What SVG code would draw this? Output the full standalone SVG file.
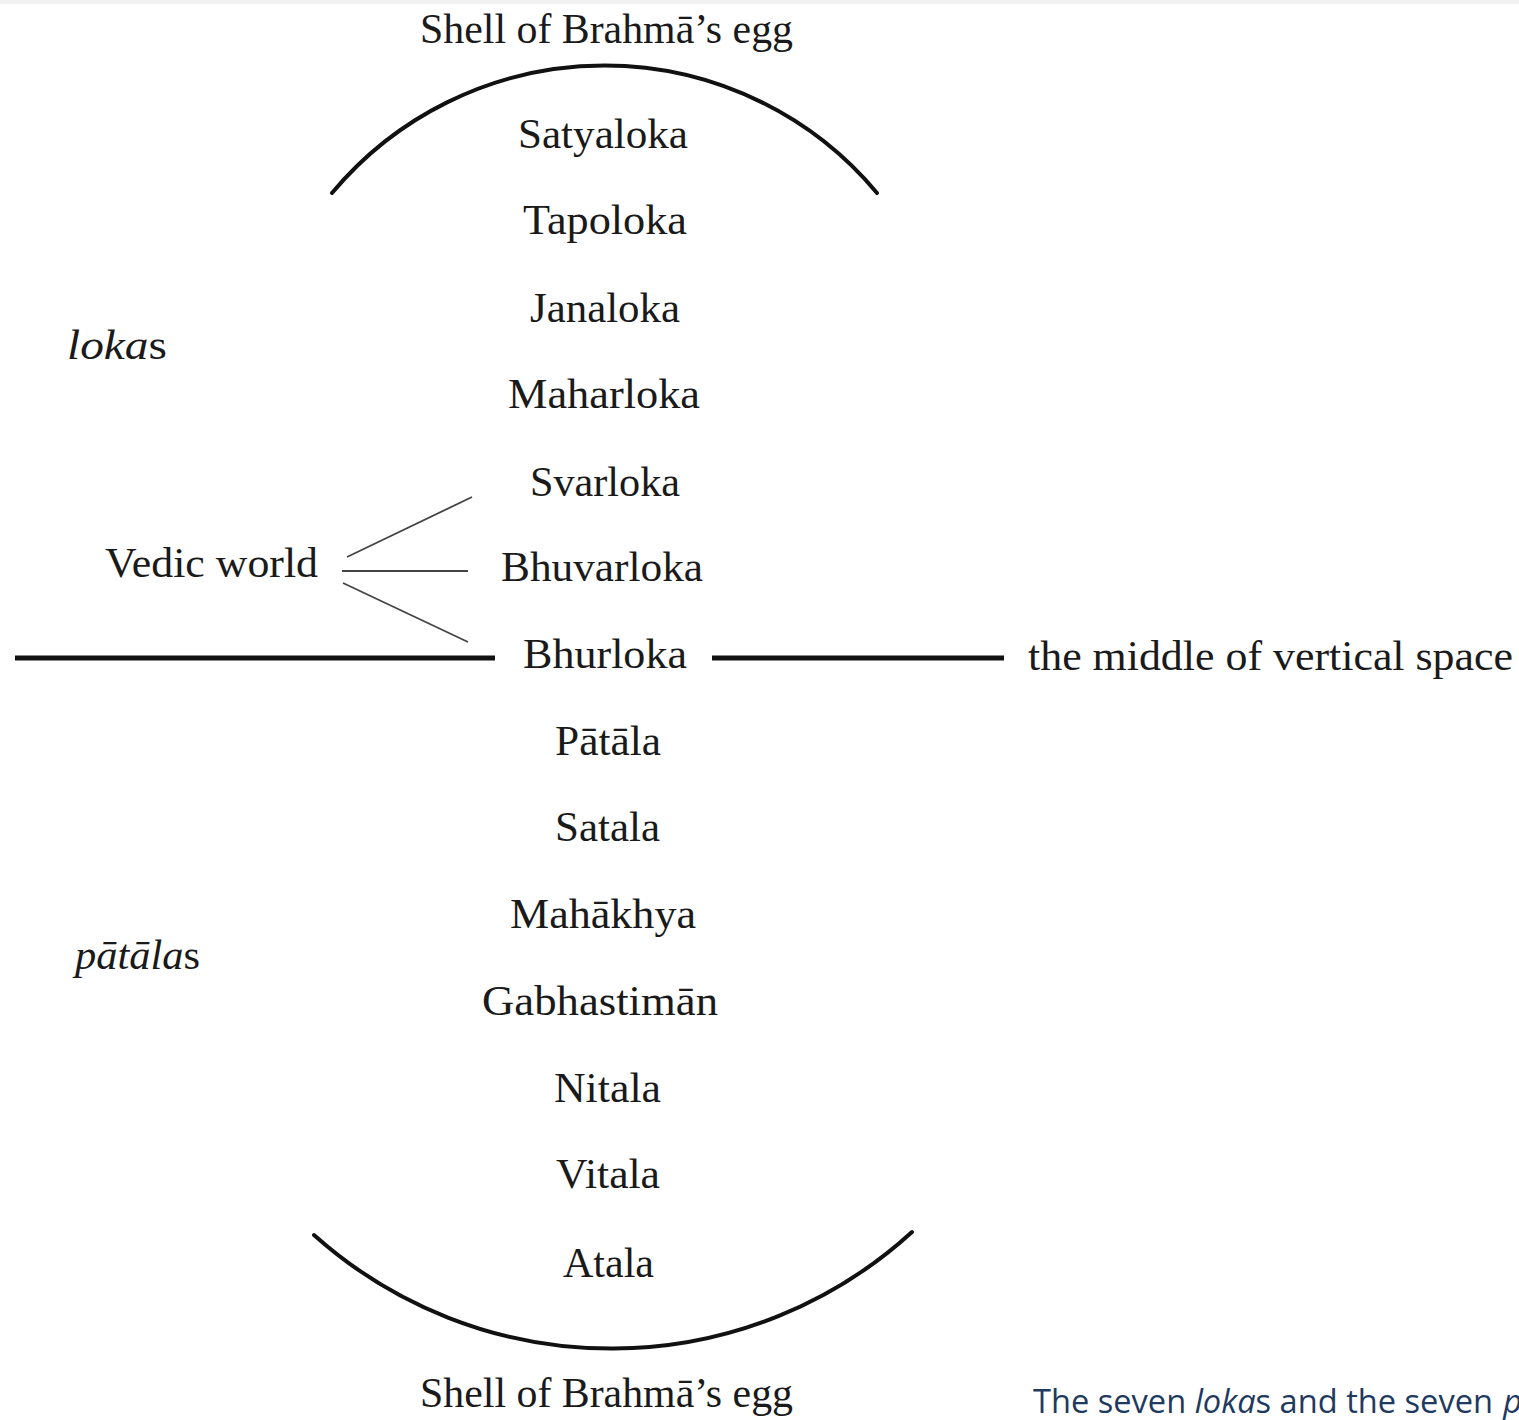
<svg xmlns="http://www.w3.org/2000/svg" width="1519" height="1420" viewBox="0 0 1519 1420">
<style>
.t{font-family:"Liberation Serif","Times New Roman",serif;font-size:42px;fill:#1a1a1a}
.i{font-style:italic}
.cap{font-family:"Open Sans","Noto Sans",sans-serif;font-size:33px;fill:#1f3a5f}
.arc{fill:none;stroke:#111;stroke-width:4;stroke-linecap:round}
.bar{fill:none;stroke:#111;stroke-width:5}
.thin{fill:none;stroke:#444;stroke-width:1.8}
</style>
<rect x="0" y="0" width="1519" height="1420" fill="#ffffff"/>
<rect x="0" y="0" width="1519" height="4" fill="#f1f1f1"/>
<g id="connectors">
<path class="arc" d="M332,193 A355,355 0 0 1 877,193"/>
<path class="arc" d="M314,1235 A446,446 0 0 0 912,1232"/>
<line class="bar" x1="15" y1="658" x2="495" y2="658"/>
<line class="bar" x1="712" y1="658" x2="1004" y2="658"/>
<line class="thin" x1="347" y1="557" x2="472" y2="497"/>
<line class="thin" x1="342" y1="571" x2="468" y2="571"/>
<line class="thin" x1="343" y1="583" x2="468" y2="642"/>
</g>
<g id="shell-top"><text class="t" x="420" y="43" textLength="373" lengthAdjust="spacingAndGlyphs">Shell of Brahmā’s egg</text></g>
<g id="satyaloka"><text class="t" x="518" y="148" textLength="170" lengthAdjust="spacingAndGlyphs">Satyaloka</text></g>
<g id="tapoloka"><text class="t" x="523" y="234" textLength="164" lengthAdjust="spacingAndGlyphs">Tapoloka</text></g>
<g id="janaloka"><text class="t" x="530" y="322" textLength="150" lengthAdjust="spacingAndGlyphs">Janaloka</text></g>
<g id="maharloka"><text class="t" x="508" y="408" textLength="192" lengthAdjust="spacingAndGlyphs">Maharloka</text></g>
<g id="svarloka"><text class="t" x="530" y="496" textLength="150" lengthAdjust="spacingAndGlyphs">Svarloka</text></g>
<g id="bhuvarloka"><text class="t" x="501" y="581" textLength="202" lengthAdjust="spacingAndGlyphs">Bhuvarloka</text></g>
<g id="bhurloka"><text class="t" x="523" y="668" textLength="164" lengthAdjust="spacingAndGlyphs">Bhurloka</text></g>
<g id="patala"><text class="t" x="555" y="755" textLength="106" lengthAdjust="spacingAndGlyphs">Pātāla</text></g>
<g id="satala"><text class="t" x="555" y="841" textLength="105" lengthAdjust="spacingAndGlyphs">Satala</text></g>
<g id="mahakhya"><text class="t" x="510" y="928" textLength="186" lengthAdjust="spacingAndGlyphs">Mahākhya</text></g>
<g id="gabhastiman"><text class="t" x="482" y="1015" textLength="236" lengthAdjust="spacingAndGlyphs">Gabhastimān</text></g>
<g id="nitala"><text class="t" x="554" y="1102" textLength="107" lengthAdjust="spacingAndGlyphs">Nitala</text></g>
<g id="vitala"><text class="t" x="556" y="1188" textLength="104" lengthAdjust="spacingAndGlyphs">Vitala</text></g>
<g id="atala"><text class="t" x="563" y="1277" textLength="91" lengthAdjust="spacingAndGlyphs">Atala</text></g>
<g id="shell-bottom"><text class="t" x="420" y="1407" textLength="373" lengthAdjust="spacingAndGlyphs">Shell of Brahmā’s egg</text></g>
<g id="lokas"><text class="t" x="67" y="359" textLength="100" lengthAdjust="spacingAndGlyphs"><tspan class="i">loka</tspan>s</text></g>
<g id="patalas"><text class="t" x="75" y="969" textLength="125" lengthAdjust="spacingAndGlyphs"><tspan class="i">pātāla</tspan>s</text></g>
<g id="vedic-world"><text class="t" x="105" y="577" textLength="213" lengthAdjust="spacingAndGlyphs">Vedic world</text></g>
<g id="middle"><text class="t" x="1028" y="670" textLength="485" lengthAdjust="spacingAndGlyphs">the middle of vertical space</text></g>
<g id="caption">
<text class="cap" x="1033" y="1413" textLength="460" lengthAdjust="spacingAndGlyphs">The seven <tspan font-style="italic">loka</tspan>s and the seven</text>
<text class="cap" x="1503" y="1413" font-style="italic">pātālas</text>
</g>
</svg>
